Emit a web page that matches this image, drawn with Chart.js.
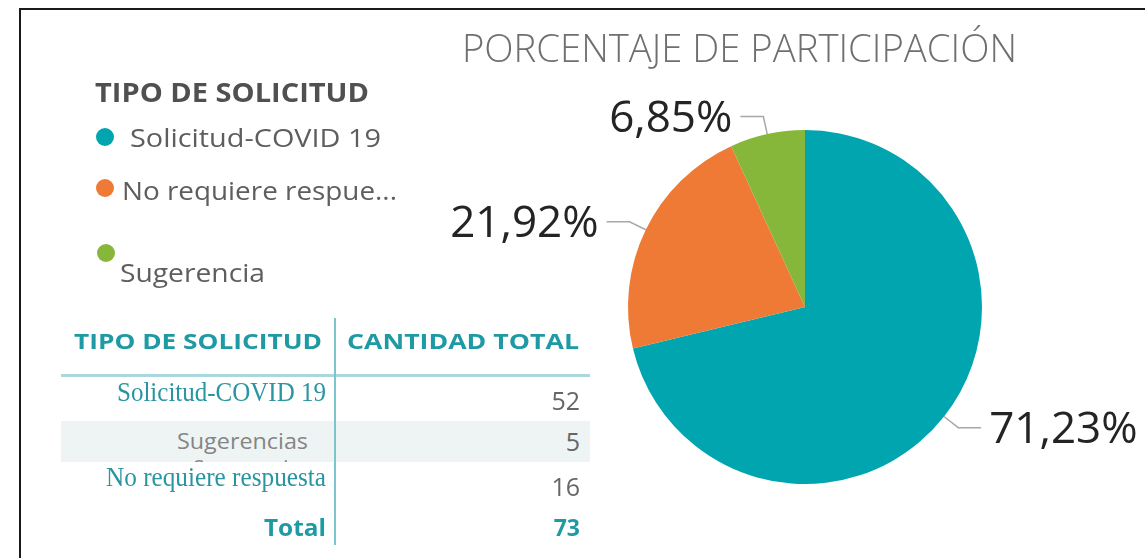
<!DOCTYPE html>
<html>
<head>
<meta charset="utf-8">
<script src="https://cdn.jsdelivr.net/npm/chart.js@4/dist/chart.umd.min.js"></script>
<style>
  html, body { margin:0; padding:0; background:#fff; }
  #wrap { position:relative; width:1145px; height:558px; overflow:hidden; background:#fff; }
  #frame { position:absolute; left:19px; top:8px; width:1300px; height:700px; border:2px solid #1a1a1a; box-sizing:border-box; }
  canvas { position:absolute; left:0; top:0; }
  .t { position:absolute; white-space:nowrap; transform-origin:left center; }
  .dot { position:absolute; border-radius:50%; }
  .blk { position:absolute; }
  .clip { position:absolute; overflow:hidden; }
</style>
</head>
<body>
<div id="wrap">
  <div id="frame"></div>
  <canvas id="c" width="1145" height="558"></canvas>
</div>
<script>
// ---- data ----
const chartTitle = 'PORCENTAJE DE PARTICIPACIÓN';
const legendTitle = 'TIPO DE SOLICITUD';
const categories = ['Solicitud-COVID 19', 'No requiere respuesta', 'Sugerencia'];
const legendLabels = ['Solicitud-COVID 19', 'No requiere respue...', 'Sugerencia'];
const counts = [52, 16, 5];
const colors = ['#01A5B0', '#EF7A35', '#86B73B'];
const tableHeaders = ['TIPO DE SOLICITUD', 'CANTIDAD TOTAL'];
const tableRows = ['Solicitud-COVID 19', 'Sugerencias', 'No requiere respuesta'];
const tableValues = [52, 5, 16];
const totalLabel = 'Total';
const totalValue = 73;

const wrap = document.getElementById('wrap');
const fitList = [];
function addText(txt, o, parent) {
  const d = document.createElement('div');
  d.className = 't';
  d.textContent = txt;
  d.style.fontFamily = o.family || "'Open Sans'";
  d.style.fontSize = o.fs + 'px';
  d.style.fontWeight = o.weight || 400;
  d.style.color = o.color || '#605E5C';
  d.style.lineHeight = o.fs + 'px';
  d.style.height = o.fs + 'px';
  const offY = o.offY || 0, offX = o.offX || 0;
  d.style.top = (o.cy - o.fs / 2 - offY) + 'px';
  if (o.x1 !== undefined) {
    d.style.left = (o.x1 - offX) + 'px';
    fitList.push([d, o.x2 - o.x1]);
  } else {
    d.style.right = (1145 - o.right) + 'px';
    d.style.transformOrigin = 'right center';
  }
  (parent || wrap).appendChild(d);
  return d;
}
function addBlock(x, y, w, h, color) {
  const d = document.createElement('div');
  d.className = 'blk';
  Object.assign(d.style, { left: x + 'px', top: y + 'px', width: w + 'px', height: h + 'px', background: color });
  wrap.appendChild(d);
  return d;
}
function addDot(cx, cy, r, color) {
  const d = document.createElement('div');
  d.className = 'dot';
  Object.assign(d.style, { left: (cx - r) + 'px', top: (cy - r) + 'px', width: 2 * r + 'px', height: 2 * r + 'px', background: color });
  wrap.appendChild(d);
}

// title
addText(chartTitle, { x1: 462, x2: 1017, cy: 47, fs: 38, weight: 300, color: '#6f6f6f' });
// legend
addText(legendTitle, { x1: 95, x2: 369, cy: 92, fs: 26, weight: 700, color: '#505050' });
const legendPos = [
  { dx: 105, dy: 137, tx1: 130, tx2: 381, cy: 137 },
  { dx: 105, dy: 188, tx1: 122, tx2: 397, cy: 190 },
  { dx: 106, dy: 253, tx1: 120, tx2: 265, cy: 272 }
];
legendLabels.forEach((l, i) => {
  const p = legendPos[i];
  addDot(p.dx, p.dy, 9, colors[i]);
  addText(l, { x1: p.tx1, x2: p.tx2, cy: p.cy, fs: 26, color: '#605E5C' });
});

// table
const teal = '#1E9AA5';
addBlock(61, 421, 529, 41, '#EEF4F4');
addBlock(61, 374, 529, 3, '#A9D9DD');
addBlock(334, 318, 2, 227, '#7CC5CB');
addText(tableHeaders[0], { x1: 74, x2: 322, cy: 340, fs: 22, weight: 700, color: teal });
addText(tableHeaders[1], { x1: 347, x2: 579, cy: 340, fs: 22, weight: 700, color: teal });
const rowCfg = [
  { x1: 117, x2: 326, cy: 392, family: "'Liberation Serif'", fs: 27, color: '#2895A0', vy: 400 },
  { x1: 177, x2: 308, cy: 440, family: "'Open Sans'", fs: 22, color: '#858585', vy: 441 },
  { x1: 106, x2: 326, cy: 477, family: "'Liberation Serif'", fs: 27, color: '#2895A0', vy: 486 }
];
tableRows.forEach((r, i) => {
  const c = rowCfg[i];
  addText(r, { x1: c.x1, x2: c.x2, cy: c.cy, fs: c.fs, family: c.family, color: c.color });
  addText(String(tableValues[i]), { right: 580, cy: c.vy, fs: 25, color: '#666666' });
});
// clipped overlapping label peeking out under the shaded row
const clip = addBlock(180, 455, 130, 7, 'transparent');
clip.className = 'clip';
addText(categories[2], { x1: 193, x2: 300, cy: 467, fs: 22, color: '#858585', offY: 455, offX: 180 }, clip);

addText(totalLabel, { x1: 264, x2: 326, cy: 527, fs: 23, weight: 700, color: teal });
addText(String(totalValue), { right: 580, cy: 527, fs: 23, weight: 700, color: teal });

function applyFit() {
  fitList.forEach(([d, w]) => {
    d.style.transform = 'none';
    const nat = d.getBoundingClientRect().width;
    if (nat > 0) d.style.transform = 'scaleX(' + (w / nat) + ')';
  });
}

// ---- pie labels plugin ----
const sum = counts.reduce((a, b) => a + b, 0);
const pctLabels = counts.map(v => (v / sum * 100).toFixed(2).replace('.', ',') + '%');
const leaderPlugin = {
  id: 'leaders',
  afterDatasetsDraw(chart) {
    const ctx = chart.ctx;
    const meta = chart.getDatasetMeta(0);
    ctx.save();
    meta.data.forEach((arc, i) => {
      const p = arc.getProps(['x', 'y', 'startAngle', 'endAngle', 'outerRadius'], true);
      const mid = (p.startAngle + p.endAngle) / 2;
      const r = p.outerRadius;
      const cos = Math.cos(mid), sin = Math.sin(mid);
      const x0 = p.x + r * cos, y0 = p.y + r * sin;
      const x1 = p.x + (r + 18) * cos, y1 = p.y + (r + 18) * sin;
      const side = cos >= 0 ? 1 : -1;
      const x2 = x1 + side * 23;
      ctx.strokeStyle = '#a8a8a8';
      ctx.lineWidth = 1.5;
      ctx.beginPath();
      ctx.moveTo(x0, y0);
      ctx.lineTo(x1, y1);
      ctx.lineTo(x2, y1);
      ctx.stroke();
      ctx.fillStyle = '#252423';
      ctx.font = "400 44px 'Open Sans'";
      ctx.textBaseline = 'middle';
      ctx.textAlign = side > 0 ? 'left' : 'right';
      ctx.fillText(pctLabels[i], x2 + side * 8, y1 + 3);
    });
    ctx.restore();
  }
};

function build() {
  new Chart(document.getElementById('c'), {
    type: 'pie',
    data: {
      labels: categories,
      datasets: [{
        data: counts,
        backgroundColor: colors,
        borderWidth: 0
      }]
    },
    options: {
      responsive: false,
      animation: false,
      layout: { padding: { left: 628, right: 163, top: 130, bottom: 74 } },
      plugins: { legend: { display: false }, tooltip: { enabled: false } }
    },
    plugins: [leaderPlugin]
  });
}

const ready = (document.fonts && document.fonts.ready) ? document.fonts.ready : Promise.resolve();
Promise.all([
  document.fonts.load("300 38px 'Open Sans'"),
  document.fonts.load("400 44px 'Open Sans'"),
  document.fonts.load("700 22px 'Open Sans'"),
  document.fonts.load("22px 'Liberation Serif'")
].map(p => p.catch(() => {}))).then(() => ready).then(() => { applyFit(); build(); });
</script>
</body>
</html>
